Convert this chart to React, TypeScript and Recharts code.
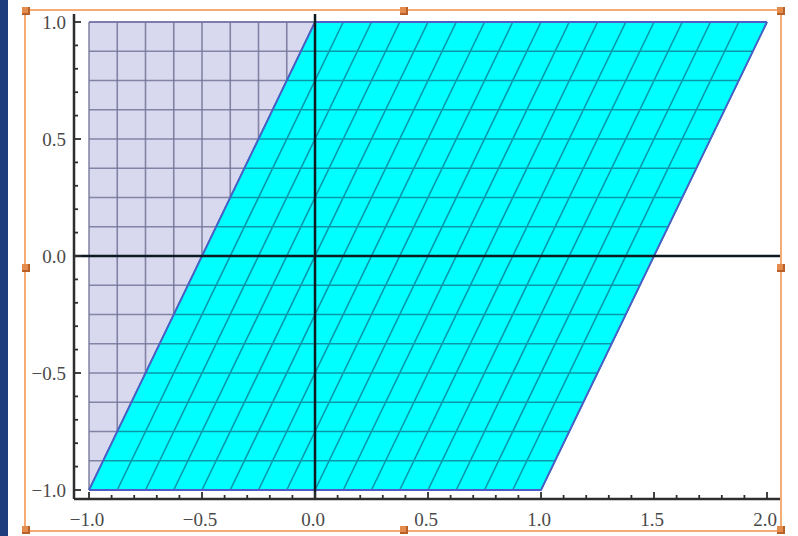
import React from "react";
import {
  ComposedChart,
  Area,
  Line,
  XAxis,
  YAxis,
  ReferenceLine,
} from "recharts";

// Mesh parameter values (16 divisions of the unit square [-1,1]x[-1,1])
const MESH_STEPS = [
  -1, -0.875, -0.75, -0.625, -0.5, -0.375, -0.25, -0.125, 0, 0.125, 0.25,
  0.375, 0.5, 0.625, 0.75, 0.875, 1,
];
// Shear: x' = x + SHEAR * (y + 1)
const SHEAR = 0.5;

// Original square (lavender)
const SQUARE_X = [-1, 1];
const SQUARE_LOW = [-1, -1];
const SQUARE_HIGH = [1, 1];

// Sheared parallelogram (cyan)
const PARA_X = [-1, 0, 1, 2];
const PARA_LOW = [-1, -1, -1, 1];
const PARA_HIGH = [-1, 1, 1, 1];

const X_TICKS = [
  -1, -0.9, -0.8, -0.7, -0.6, -0.5, -0.4, -0.3, -0.2, -0.1, 0, 0.1, 0.2, 0.3,
  0.4, 0.5, 0.6, 0.7, 0.8, 0.9, 1, 1.1, 1.2, 1.3, 1.4, 1.5, 1.6, 1.7, 1.8, 1.9,
  2,
];
const Y_TICKS = [
  -1, -0.9, -0.8, -0.7, -0.6, -0.5, -0.4, -0.3, -0.2, -0.1, 0, 0.1, 0.2, 0.3,
  0.4, 0.5, 0.6, 0.7, 0.8, 0.9, 1,
];

const X_DOMAIN = [-1.0664, 2.0619];
const Y_DOMAIN = [-1.0385, 1.0342];

const squareData = SQUARE_X.map((x, i) => ({ x, r: [SQUARE_LOW[i], SQUARE_HIGH[i]] }));
const paraData = PARA_X.map((x, i) => ({ x, r: [PARA_LOW[i], PARA_HIGH[i]] }));

// mesh lines of the original square
const lavVertical = MESH_STEPS.map((v) => [
  { x: v, y: -1 },
  { x: v, y: 1 },
]);
const lavHorizontal = MESH_STEPS.map((v) => [
  { x: -1, y: v },
  { x: 1, y: v },
]);
// mesh lines of the sheared image
const cyanHorizontal = MESH_STEPS.map((v) => [
  { x: -1 + SHEAR * (v + 1), y: v },
  { x: 1 + SHEAR * (v + 1), y: v },
]);
const cyanSlanted = MESH_STEPS.map((v) => [
  { x: v, y: -1 },
  { x: v + SHEAR * 2, y: 1 },
]);

const isMajor = (v: number) => Math.abs(v * 2 - Math.round(v * 2)) < 1e-9;
const fmt = (v: number) => {
  const s = Math.abs(v).toFixed(1);
  return v < -1e-9 ? "\u2212" + s : s;
};

const FRAME = "#2e2e2e";
const LABEL_STYLE = {
  fontFamily: "'Liberation Serif', 'DejaVu Serif', serif",
  fontSize: 19,
  fill: "#4a4a4a",
};

const BottomTick = (p: any) => {
  const { x, y, payload } = p;
  const m = isMajor(payload.value);
  return (
    <g>
      <line x1={x} x2={x} y1={y} y2={y - (m ? 7 : 4)} stroke={FRAME} strokeWidth={1.8} />
      {m && (
        <text x={x - 2} y={y + 27} textAnchor="middle" {...LABEL_STYLE}>
          {fmt(payload.value)}
        </text>
      )}
    </g>
  );
};
const TopTick = (p: any) => {
  const { x, y, payload } = p;
  const m = isMajor(payload.value);
  return <line x1={x} x2={x} y1={y} y2={y + (m ? 7 : 4)} stroke={FRAME} strokeWidth={1.8} />;
};
const LeftTick = (p: any) => {
  const { x, y, payload } = p;
  const m = isMajor(payload.value);
  return (
    <g>
      <line x1={x} x2={x + (m ? 7 : 4)} y1={y} y2={y} stroke={FRAME} strokeWidth={1.8} />
      {m && (
        <text x={x - 8} y={y + 7} textAnchor="end" {...LABEL_STYLE}>
          {fmt(payload.value)}
        </text>
      )}
    </g>
  );
};
const RightTick = (p: any) => {
  const { x, y, payload } = p;
  const m = isMajor(payload.value);
  return <line x1={x} x2={x - (m ? 7 : 4)} y1={y} y2={y} stroke={FRAME} strokeWidth={1.8} />;
};

const Handle = ({ left, top }: { left: number; top: number }) => (
  <div
    style={{
      position: "absolute",
      left: left - 4,
      top: top - 4,
      width: 8,
      height: 8,
      background: "#e38c4e",
      boxShadow: "inset -2px -2px 0 #b8602a",
    }}
  />
);

export default function App() {
  let z = 1;
  return (
    <div
      style={{
        position: "absolute",
        left: 0,
        top: 0,
        width: 798,
        height: 536,
        background: "#fff",
        overflow: "hidden",
      }}
    >
      <div
        style={{
          position: "absolute",
          left: 0,
          top: 0,
          width: 8,
          height: 536,
          background: "#1d3d7c",
        }}
      />
      <div
        style={{
          position: "absolute",
          left: 0,
          top: 0,
        }}
      >
        <ComposedChart
          width={798}
          height={536}
          margin={{ top: 14, right: 17, bottom: 7, left: 24 }}
        >
          <XAxis
            xAxisId="t"
            orientation="top"
            type="number"
            dataKey="x"
            domain={X_DOMAIN}
            allowDataOverflow
            ticks={X_TICKS}
            interval={0}
            height={0}
            tickSize={0}
            tickMargin={0}
            tickLine={false}
            tick={TopTick}
            axisLine={{ stroke: FRAME, strokeWidth: 2.5 }}
          />
          <XAxis
            xAxisId="b"
            orientation="bottom"
            type="number"
            dataKey="x"
            domain={X_DOMAIN}
            allowDataOverflow
            ticks={X_TICKS}
            interval={0}
            height={30}
            tickSize={0}
            tickMargin={0}
            tickLine={false}
            tick={BottomTick}
            axisLine={{ stroke: FRAME, strokeWidth: 2.5 }}
          />
          <YAxis
            yAxisId="l"
            orientation="left"
            type="number"
            domain={Y_DOMAIN}
            allowDataOverflow
            ticks={Y_TICKS}
            interval={0}
            width={50}
            tickSize={0}
            tickMargin={0}
            tickLine={false}
            tick={LeftTick}
            axisLine={{ stroke: FRAME, strokeWidth: 2.5 }}
          />
          <YAxis
            yAxisId="r"
            orientation="right"
            type="number"
            domain={Y_DOMAIN}
            allowDataOverflow
            ticks={Y_TICKS}
            interval={0}
            width={0}
            tickSize={0}
            tickMargin={0}
            tickLine={false}
            tick={RightTick}
            axisLine={{ stroke: FRAME, strokeWidth: 2.5 }}
          />

          <Area
            data={squareData}
            dataKey="r"
            xAxisId="b"
            yAxisId="l"
            type="linear"
            fill="#d8d8ef"
            fillOpacity={1}
            stroke="#6b6bcc"
            strokeWidth={1.6}
            isAnimationActive={false}
            zIndex={z++}
          />
          {[...lavVertical, ...lavHorizontal].map((d, i) => (
            <Line
              key={"lv" + i}
              data={d}
              dataKey="y"
              xAxisId="b"
              yAxisId="l"
              type="linear"
              stroke="#747498"
              strokeOpacity={0.85}
              strokeWidth={1.6}
              dot={false}
              activeDot={false}
              isAnimationActive={false}
              zIndex={z++}
            />
          ))}
          <Area
            data={paraData}
            dataKey="r"
            xAxisId="b"
            yAxisId="l"
            type="linear"
            fill="#00ffff"
            fillOpacity={1}
            stroke="none"
            isAnimationActive={false}
            zIndex={z++}
          />
          {[...cyanHorizontal, ...cyanSlanted].map((d, i) => (
            <Line
              key={"cv" + i}
              data={d}
              dataKey="y"
              xAxisId="b"
              yAxisId="l"
              type="linear"
              stroke="#0898aa"
              strokeWidth={1.6}
              dot={false}
              activeDot={false}
              isAnimationActive={false}
              zIndex={z++}
            />
          ))}
          <Area
            data={paraData}
            dataKey="r"
            xAxisId="b"
            yAxisId="l"
            type="linear"
            fill="none"
            stroke="#4d5cc6"
            strokeWidth={1.8}
            isAnimationActive={false}
            zIndex={z++}
          />
          <ReferenceLine xAxisId="b" yAxisId="l" x={0} stroke="#0d1a22" strokeWidth={2.5} zIndex={z++} />
          <ReferenceLine xAxisId="b" yAxisId="l" y={0} stroke="#0d1a22" strokeWidth={2.5} zIndex={z++} />
        </ComposedChart>
      </div>
      <div
        style={{
          position: "absolute",
          left: 24,
          top: 9,
          width: 782 - 24,
          height: 532 - 9,
          border: "2px solid #f4ab74",
          boxSizing: "border-box",
          pointerEvents: "none",
        }}
      />
      <Handle left={26} top={11} />
      <Handle left={404} top={11} />
      <Handle left={781} top={11} />
      <Handle left={26} top={268} />
      <Handle left={781} top={268} />
      <Handle left={26} top={530} />
      <Handle left={404} top={530} />
      <Handle left={781} top={530} />
    </div>
  );
}
